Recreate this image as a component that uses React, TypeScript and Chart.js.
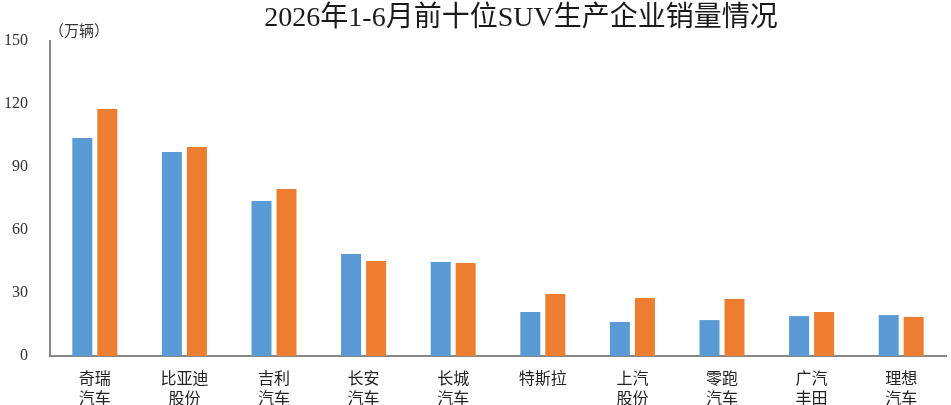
import { useEffect, useRef } from 'react';
import { Chart, registerables } from 'chart.js';

Chart.register(...registerables);

const companies: string[][] = [
  ['奇瑞', '汽车'],
  ['比亚迪', '股份'],
  ['吉利', '汽车'],
  ['长安', '汽车'],
  ['长城', '汽车'],
  ['特斯拉'],
  ['上汽', '股份'],
  ['零跑', '汽车'],
  ['广汽', '丰田'],
  ['理想', '汽车'],
];
const blueSales = [103.8, 97.1, 73.8, 48.6, 44.8, 21.0, 16.2, 17.1, 19.0, 19.5];
const orangeSales = [117.6, 99.5, 79.5, 45.2, 44.3, 29.5, 27.6, 27.1, 21.0, 18.6];
const yTicks = [0, 30, 60, 90, 120, 150];

const chartTitle = '2026年1-6月前十位SUV生产企业销量情况';
const unitLabel = '（万辆）';

const serif = "'Liberation Serif', 'Noto Sans CJK SC', serif";
const sans = "'Noto Sans CJK SC', 'Noto Sans', sans-serif";

const headerPlugin = {
  id: 'header',
  afterDraw(chart: Chart) {
    const ctx = chart.ctx;
    ctx.save();
    ctx.fillStyle = '#1a1a1a';
    ctx.font = `28px ${serif}`;
    ctx.textAlign = 'center';
    ctx.textBaseline = 'middle';
    ctx.fillText(chartTitle, 521, 19);
    ctx.fillStyle = '#333333';
    ctx.font = `15px ${sans}`;
    ctx.textAlign = 'left';
    ctx.fillText(unitLabel, chart.chartArea.left - 1, 30);
    ctx.restore();
  },
};

export default function App() {
  const canvasRef = useRef<HTMLCanvasElement | null>(null);
  const chartRef = useRef<Chart | null>(null);

  useEffect(() => {
    if (!canvasRef.current) return;
    if (chartRef.current) chartRef.current.destroy();

    chartRef.current = new Chart(canvasRef.current, {
      type: 'bar',
      data: {
        labels: companies,
        datasets: [
          {
            label: '上年同期',
            data: blueSales,
            backgroundColor: '#5B9BD5',
            categoryPercentage: 0.558,
            barPercentage: 0.8,
          },
          {
            label: '本期',
            data: orangeSales,
            backgroundColor: '#ED7D31',
            categoryPercentage: 0.558,
            barPercentage: 0.8,
          },
        ],
      },
      options: {
        responsive: true,
        maintainAspectRatio: false,
        animation: false,
        layout: { padding: { top: 41, right: 5, left: 0, bottom: 0 } },
        plugins: {
          legend: { display: false },
          title: { display: false },
          tooltip: { enabled: false },
        },
        scales: {
          x: {
            grid: { display: false, drawTicks: false },
            border: { color: '#878787', width: 2 },
            ticks: {
              color: '#222222',
              padding: 12,
              maxRotation: 0,
              autoSkip: false,
              font: { family: sans, size: 16, lineHeight: 1.25 },
            },
            afterFit(scale: any) {
              scale.height = 49;
            },
          },
          y: {
            min: 0,
            max: 150,
            grid: { display: false, drawTicks: false },
            border: { color: '#878787', width: 2 },
            afterBuildTicks(scale: any) {
              scale.ticks = yTicks.map((v) => ({ value: v }));
            },
            ticks: {
              color: '#333333',
              padding: 22,
              font: { family: serif, size: 16 },
            },
            afterFit(scale: any) {
              scale.width = 50;
            },
          },
        },
      },
      plugins: [headerPlugin],
    });

    return () => {
      chartRef.current?.destroy();
      chartRef.current = null;
    };
  }, []);

  return (
    <div style={{ position: 'fixed', left: 0, top: 0, width: 951, height: 405, background: '#ffffff' }}>
      <canvas ref={canvasRef} />
    </div>
  );
}
